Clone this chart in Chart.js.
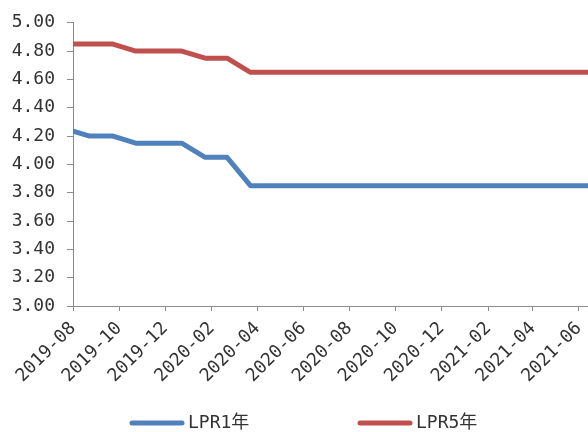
<!DOCTYPE html>
<html>
<head>
<meta charset="utf-8">
<script src="https://cdn.jsdelivr.net/npm/chart.js@4.4.1/dist/chart.umd.min.js"></script>
<style>
  html, body { margin: 0; padding: 0; background: #fff; }
  #wrap { width: 588px; height: 432px; }
</style>
</head>
<body>
<div id="wrap"><canvas id="c" width="588" height="432"></canvas></div>
<script>
// LPR fixing dates and rates (%)
const fixDates = [
  '2019-08-20', '2019-09-20', '2019-10-21', '2019-11-20', '2019-12-20', '2020-01-20',
  '2020-02-20', '2020-03-20', '2020-04-20', '2020-05-20', '2020-06-22', '2020-07-20',
  '2020-08-20', '2020-09-21', '2020-10-20', '2020-11-20', '2020-12-21', '2021-01-20',
  '2021-02-20', '2021-03-22', '2021-04-20', '2021-05-20', '2021-06-21', '2021-07-20'
];
const lpr1y = [
  4.25, 4.20, 4.20, 4.15, 4.15, 4.15,
  4.05, 4.05, 3.85, 3.85, 3.85, 3.85,
  3.85, 3.85, 3.85, 3.85, 3.85, 3.85,
  3.85, 3.85, 3.85, 3.85, 3.85, 3.85
];
const lpr5y = [
  4.85, 4.85, 4.85, 4.80, 4.80, 4.80,
  4.75, 4.75, 4.65, 4.65, 4.65, 4.65,
  4.65, 4.65, 4.65, 4.65, 4.65, 4.65,
  4.65, 4.65, 4.65, 4.65, 4.65, 4.65
];
const seriesNames = ['LPR1年', 'LPR5年'];
const tickLabels = [
  '2019-08', '2019-10', '2019-12', '2020-02', '2020-04', '2020-06',
  '2020-08', '2020-10', '2020-12', '2021-02', '2021-04', '2021-06'
];
const axisStart = '2019-08-29';
const axisEnd = '2021-07-11';
const tickDayOfMonth = 29;

const DAY = 86400000;
const toDay = s => Date.parse(s) / DAY;
const tickDay = label => {
  const [y, m] = label.split('-').map(Number);
  return Date.UTC(y, m - 1, tickDayOfMonth) / DAY;
};

const FONT = "'DejaVu Sans Mono', 'Noto Sans CJK SC', monospace";
const TEXT = '#333333';
const AXIS = '#8c8c8c';
const COLORS = ['#4F81BD', '#C0504D'];

// Legend row under the axis: a short line sample followed by the series name
const bottomKey = {
  id: 'bottomKey',
  afterDraw(chart, args, opts) {
    const ctx = chart.ctx;
    chart.data.datasets.forEach((ds, i) => {
      const x = opts.starts[i];
      const y = opts.y;
      ctx.save();
      ctx.strokeStyle = ds.borderColor;
      ctx.lineWidth = ds.borderWidth;
      ctx.lineCap = 'round';
      ctx.beginPath();
      ctx.moveTo(x, y);
      ctx.lineTo(x + opts.lineLength, y);
      ctx.stroke();
      ctx.fillStyle = TEXT;
      ctx.font = opts.font;
      ctx.textBaseline = 'middle';
      ctx.textAlign = 'left';
      ctx.fillText(ds.label, x + opts.lineLength + opts.gap, y);
      ctx.restore();
    });
  }
};

const makeSeries = vals => fixDates.map((d, i) => ({ x: toDay(d), y: vals[i] }));

new Chart(document.getElementById('c'), {
  type: 'line',
  data: {
    datasets: [lpr1y, lpr5y].map((vals, i) => ({
      label: seriesNames[i],
      data: makeSeries(vals),
      borderColor: COLORS[i],
      backgroundColor: COLORS[i],
      borderWidth: 5,
      borderJoinStyle: 'round',
      pointRadius: 0,
      tension: 0,
      fill: false
    }))
  },
  options: {
    responsive: false,
    animation: false,
    layout: { padding: { top: 21, left: 0, right: 0, bottom: 0 } },
    plugins: {
      legend: { display: false },
      tooltip: { enabled: false },
      bottomKey: {
        starts: [132, 360],
        y: 423,
        lineLength: 50,
        gap: 6,
        font: "18px " + FONT
      }
    },
    scales: {
      x: {
        type: 'linear',
        min: toDay(axisStart),
        max: toDay(axisEnd),
        afterBuildTicks: scale => {
          scale.ticks = tickLabels.map(l => ({ value: tickDay(l) }));
        },
        afterFit: scale => {
          scale.height = 126;
          scale.paddingLeft = 0;
          scale.paddingRight = 0;
        },
        border: { display: true, color: AXIS, width: 1 },
        grid: { display: true, drawOnChartArea: false, drawTicks: true, tickLength: 5, color: AXIS },
        ticks: {
          autoSkip: false,
          minRotation: 45,
          maxRotation: 45,
          padding: 7,
          color: TEXT,
          font: { family: FONT, size: 18 },
          callback: (v, i) => tickLabels[i]
        }
      },
      y: {
        min: 3,
        max: 5,
        afterFit: scale => { scale.width = 73; },
        border: { display: true, color: AXIS, width: 1 },
        grid: { display: true, drawOnChartArea: false, drawTicks: true, tickLength: 6, color: AXIS },
        ticks: {
          stepSize: 0.2,
          padding: 12,
          color: TEXT,
          font: { family: FONT, size: 18 },
          callback: v => Number(v).toFixed(2)
        }
      }
    }
  },
  plugins: [bottomKey]
});
</script>
</body>
</html>
